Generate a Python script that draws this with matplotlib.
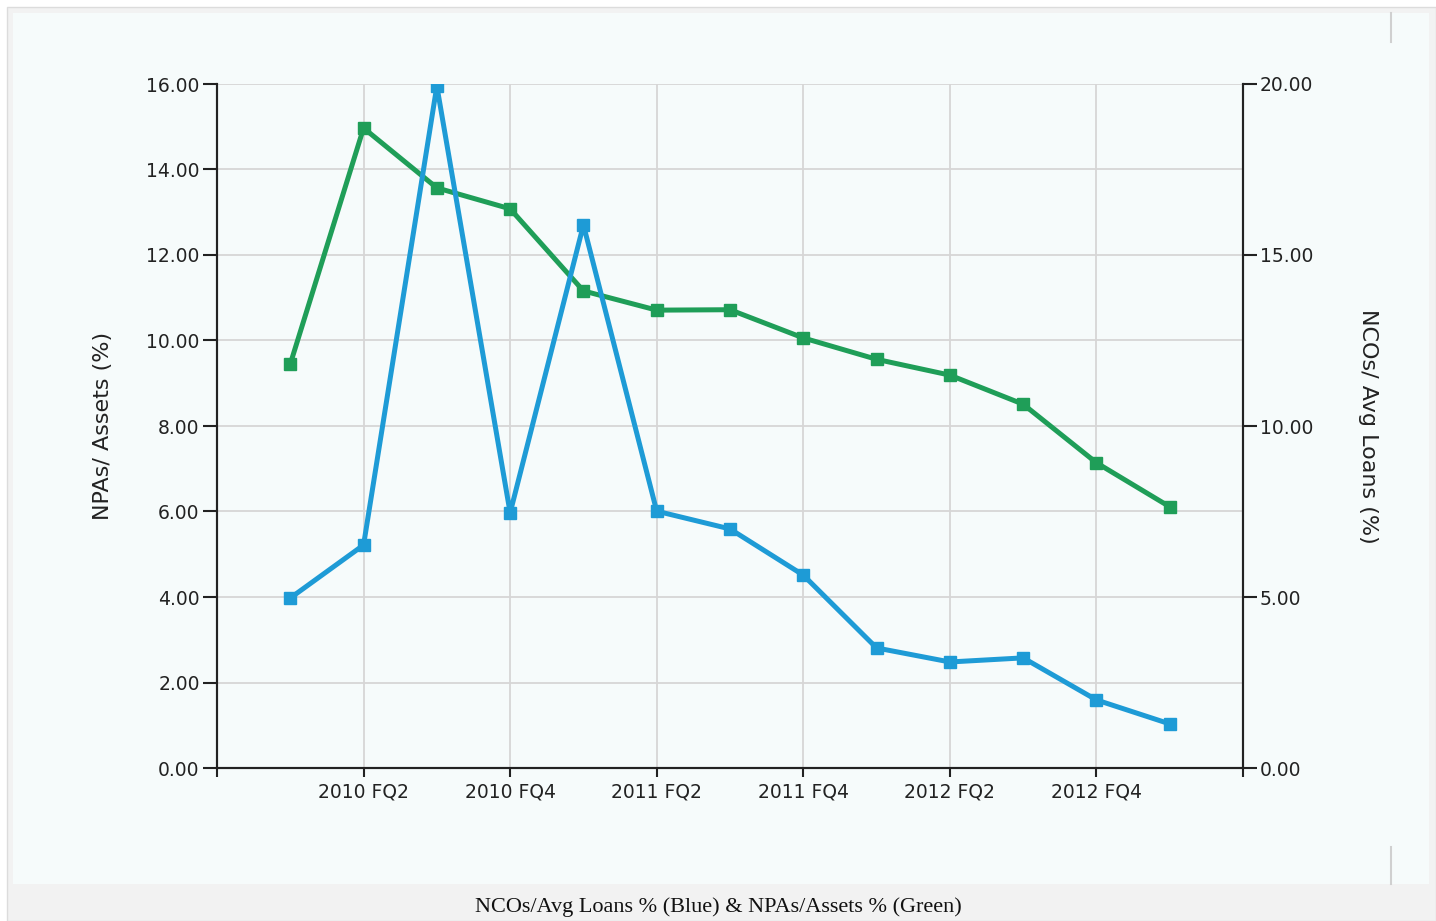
import matplotlib.pyplot as plt
from matplotlib.patches import Rectangle
from matplotlib.lines import Line2D

# quarters 2010 FQ1 .. 2013 FQ1
quarters = ['2010 FQ1', '2010 FQ2', '2010 FQ3', '2010 FQ4',
            '2011 FQ1', '2011 FQ2', '2011 FQ3', '2011 FQ4',
            '2012 FQ1', '2012 FQ2', '2012 FQ3', '2012 FQ4', '2013 FQ1']
npas_assets = [9.45, 14.97, 13.57, 13.08, 11.16, 10.71, 10.72, 10.06,
               9.56, 9.19, 8.51, 7.14, 6.11]          # green, left axis
ncos_loans = [4.97, 6.52, 19.94, 7.46, 15.88, 7.51, 6.99, 5.64,
              3.51, 3.10, 3.22, 1.99, 1.29]           # blue, right axis
left_ticks = [0, 2, 4, 6, 8, 10, 12, 14, 16]
right_ticks = [0, 5, 10, 15, 20]

blue = '#1e9bd6'
green = '#1f9e58'
grid_c = '#d6d6d6'
sans = ['DejaVu Sans']

fig = plt.figure(figsize=(14.36, 9.21), dpi=100)
fig.patch.set_facecolor('white')

# panel background + caption strip
fig.add_artist(Rectangle((7 / 1436, 0), 1 - 7 / 1436, 1 - 7 / 921, transform=fig.transFigure,
                         facecolor='#f2f2f2', edgecolor='#dcdcdc', lw=1, zorder=-3))
fig.add_artist(Rectangle((13 / 1436, 37 / 921), (1429 - 13) / 1436, (908 - 37) / 921,
                         transform=fig.transFigure, facecolor='#f6fbfb', edgecolor='none', zorder=-2))
fig.add_artist(Line2D([1391 / 1436] * 2, [1 - 13 / 921, 1 - 42 / 921], transform=fig.transFigure,
                      color='#d0d0d0', lw=1.5))
fig.add_artist(Line2D([1391 / 1436] * 2, [1 - 847 / 921, 1 - 884 / 921], transform=fig.transFigure,
                      color='#d0d0d0', lw=1.5))

ax = fig.add_axes([217 / 1436, 1 - 768 / 921, (1243 - 217) / 1436, (768 - 84) / 921])
ax.set_facecolor('none')
ax2 = ax.twinx()

x = list(range(len(quarters)))
ax.plot(x, npas_assets, color=green, lw=3.6, marker='s', markersize=8, zorder=3)
ax2.plot(x, ncos_loans, color=blue, lw=3.6, marker='s', markersize=8, zorder=3)

ax.set_xlim(-1, len(quarters))
ax.set_ylim(0, 16)
ax2.set_ylim(0, 20)

xt = [-1] + list(range(1, len(quarters), 2)) + [len(quarters)]
ax.set_xticks(xt)
ax.set_xticklabels([''] + [quarters[i] for i in range(1, len(quarters), 2)] + [''])
ax.set_yticks(left_ticks)
ax.set_yticklabels(['%.2f' % v for v in left_ticks])
ax2.set_yticks(right_ticks)
ax2.set_yticklabels(['%.2f' % v for v in right_ticks])

ax.grid(True, color=grid_c, lw=1.3)
ax.set_axisbelow(True)
for a in (ax, ax2):
    a.spines['top'].set_visible(False)
    for s in ('left', 'right', 'bottom'):
        a.spines[s].set_color('#222222')
        a.spines[s].set_linewidth(1.5)
ax.tick_params(axis='x', length=6.5, width=1.5, color='#222222', pad=4,
               labelsize=13.5, labelcolor='#222222')
ax.tick_params(axis='y', length=10, width=1.5, color='#222222', pad=2.5,
               labelsize=13.5, labelcolor='#222222')
ax2.tick_params(axis='y', length=10, width=1.5, color='#222222', pad=2,
                labelsize=13.5, labelcolor='#222222')
for lab in ax.get_xticklabels() + ax.get_yticklabels() + ax2.get_yticklabels():
    lab.set_family(sans)

ax.set_ylabel('NPAs/ Assets (%)', fontsize=16, family=sans, color='#222222', va='center')
ax.yaxis.set_label_coords(-0.111, 0.5)
ax2.set_ylabel('NCOs/ Avg Loans (%)', fontsize=16, family=sans, color='#222222', rotation=270,
               va='center')
ax2.yaxis.set_label_coords(1.1218, 0.5)

fig.text(0.5, 1 - 907 / 921, 'NCOs/Avg Loans % (Blue) & NPAs/Assets % (Green)',
         ha='center', va='center', fontsize=16,
         family=['Liberation Serif', 'DejaVu Serif'], color='#111111')

fig.savefig('out.png', dpi=100)
